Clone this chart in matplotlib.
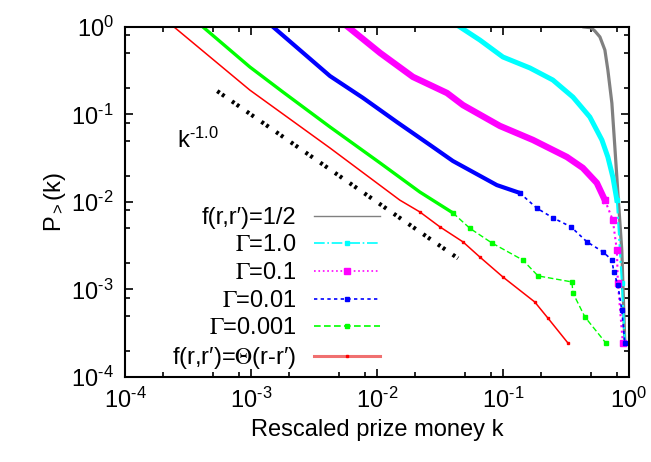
import matplotlib.pyplot as plt
from matplotlib.lines import Line2D
from matplotlib.ticker import LogLocator, NullFormatter, FuncFormatter
import numpy as np

plt.rcParams['font.family'] = ['Liberation Sans', 'DejaVu Sans']
plt.rcParams['mathtext.fontset'] = 'stix'
plt.rcParams['axes.unicode_minus'] = False
plt.rcParams['font.size'] = 17

# f(r,r')=1/2
half_k = [0.44, 0.50, 0.537, 0.589, 0.645, 0.681, 0.733, 0.774, 0.818, 0.879, 0.929]
half_P = [1.0, 0.98, 0.90, 0.77, 0.546, 0.323, 0.135, 0.0425, 0.0127, 2.8e-3, 2.45e-4]

# Gamma = 1.0
g1_k = [0.0456, 0.0656, 0.1, 0.164, 0.249, 0.36, 0.49, 0.611, 0.681, 0.746, 0.803, 0.88, 0.93]
g1_P = [1.0, 0.71, 0.454, 0.34, 0.248, 0.158, 0.0936, 0.0511, 0.0327, 0.0193, 0.0105, 1.19e-3, 2.45e-4]

# Gamma = 0.1
g01_k = [5.9e-3, 0.0106, 0.0193, 0.036, 0.0482, 0.0946, 0.173, 0.322, 0.431, 0.557, 0.645, 0.746, 0.803, 0.818, 0.895]
g01_P = [1.0, 0.505, 0.269, 0.176, 0.128, 0.074, 0.0512, 0.0327, 0.0245, 0.0165, 0.0105, 6.2e-3, 2.8e-3, 1.19e-3, 2.45e-4]

# Gamma = 0.01
g001_k = [1.5e-3, 4.24e-3, 7.74e-3, 0.0144, 0.0264, 0.0401, 0.0895, 0.136, 0.186, 0.249, 0.347, 0.465,
          0.622, 0.733, 0.76, 0.818, 0.879, 0.929]
g001_P = [1.0, 0.275, 0.155, 0.082, 0.0448, 0.0294, 0.0156, 0.0127, 8.5e-3, 6.6e-3, 5.2e-3, 3.5e-3,
          2.7e-3, 2.17e-3, 1.58e-3, 1.12e-3, 5.8e-4, 2.45e-4]

# Gamma = 0.001
g0001_k = [4.16e-4, 9.8e-4, 1.79e-3, 4.24e-3, 0.0106, 0.0219, 0.0401, 0.0547, 0.0818, 0.144, 0.19,
           0.353, 0.36, 0.448, 0.656]
g0001_P = [1.0, 0.349, 0.181, 0.072, 0.0279, 0.013, 7.5e-3, 5.0e-3, 3.4e-3, 2.17e-3, 1.43e-3,
           1.22e-3, 9.1e-4, 4.85e-4, 2.45e-4]

# f(r,r')=Theta(r-r')
step_k = [2.45e-4, 9.8e-4, 4.24e-3, 0.0152, 0.0219, 0.0316, 0.0482, 0.0656, 0.1, 0.179, 0.228, 0.328]
step_P = [1.0, 0.19, 0.0414, 0.0105, 7.7e-3, 5.2e-3, 3.5e-3, 2.35e-3, 1.39e-3, 7.2e-4, 4.7e-4, 2.45e-4]

# k^-1.0 guide
guide_k = [5.4e-4, 0.044]
guide_P = [0.185, 2.27e-3]

labels = ["f(r,r\u2032)=1/2", r"$\Gamma$=1.0", r"$\Gamma$=0.1", r"$\Gamma$=0.01",
          r"$\Gamma$=0.001", "f(r,r\u2032)=$\\Theta$(r-r\u2032)"]

fig = plt.figure(figsize=(6.51, 4.62), dpi=100)
ax = fig.add_axes([0.192, 0.184, 0.774, 0.7576])

# dense heads drawn thick, sparse tails thin with markers
ax.plot(half_k, half_P, color='#808080', lw=2.3)

ax.plot(g1_k[:11], g1_P[:11], color='cyan', lw=3.6)
ax.plot(g1_k[10:], g1_P[10:], color='cyan', lw=1.5, ls='-.', marker='s', ms=3)

ax.plot(g01_k[:11], g01_P[:11], color='magenta', lw=4.6)
ax.plot(g01_k[10:], g01_P[10:], color='magenta', lw=1.5, ls=':', marker='s', ms=4)

ax.plot(g001_k[:8], g001_P[:8], color='blue', lw=3.0)
ax.plot(g001_k[7:], g001_P[7:], color='blue', lw=1.2, ls=(0, (2, 2)), marker='s', ms=3)

ax.plot(g0001_k[:7], g0001_P[:7], color='#00ff00', lw=2.4)
ax.plot(g0001_k[6:], g0001_P[6:], color='#00ff00', lw=1.0, ls=(0, (4, 2)), marker='s', ms=2.5)

ax.plot(step_k, step_P, color='red', lw=1.1, marker='s', ms=1.5, markevery=list(range(4, len(step_k))))

ax.plot(guide_k, guide_P, color='black', lw=3, ls=(0, (0.7, 0.7, 0.7, 2.2)))
ax.text(2.6e-4, 0.041, r'$\mathdefault{k^{\text{-}1.0}}$', fontsize=17, va='baseline')


def dec_fmt(v, pos):
    e = int(round(np.log10(v)))
    if e < 0:
        return r'$\mathdefault{10^{\text{-}%d}}$' % (-e)
    return r'$\mathdefault{10^{%d}}$' % e


ax.set_xscale('log')
ax.set_yscale('log')
ax.set_xlim(1e-4, 1)
ax.set_ylim(1e-4, 1)
ax.set_xticks([1e-4, 1e-3, 1e-2, 1e-1, 1])
ax.set_yticks([1e-4, 1e-3, 1e-2, 1e-1, 1])
for a in (ax.xaxis, ax.yaxis):
    a.set_major_formatter(FuncFormatter(dec_fmt))
    a.set_minor_locator(LogLocator(base=10, subs=[2, 5, 8]))
    a.set_minor_formatter(NullFormatter())
ax.tick_params(which='both', direction='in', top=True, right=True, width=1.2)
ax.tick_params(which='major', length=6, pad=8)
ax.tick_params(which='minor', length=3.5)
for s in ax.spines.values():
    s.set_linewidth(1.5)

ax.set_xlabel('Rescaled prize money k', labelpad=4)
ax.set_ylabel(r'P$_{\mathdefault{>}}$(k)', labelpad=2)

handles = [
    Line2D([], [], color='#808080', lw=1.0),
    Line2D([], [], color='cyan', lw=1.2, ls='-.', marker='s', ms=3),
    Line2D([], [], color='magenta', lw=1.2, ls=':', marker='s', ms=4),
    Line2D([], [], color='blue', lw=1.2, ls=(0, (2, 2)), marker='s', ms=3),
    Line2D([], [], color='#00ff00', lw=1.2, ls=(0, (4, 2)), marker='s', ms=3),
    Line2D([], [], color='#f07070', lw=2.2, marker='s', ms=1.5, mfc='red', mec='red'),
]
ax.legend(handles, labels, loc='lower right', bbox_to_anchor=(0.53, -0.017), markerfirst=False,
          frameon=False, borderpad=0, handlelength=2.8, handletextpad=0.75, labelspacing=0.24,
          fontsize=17, numpoints=1)

fig.savefig('out.png', dpi=100)
